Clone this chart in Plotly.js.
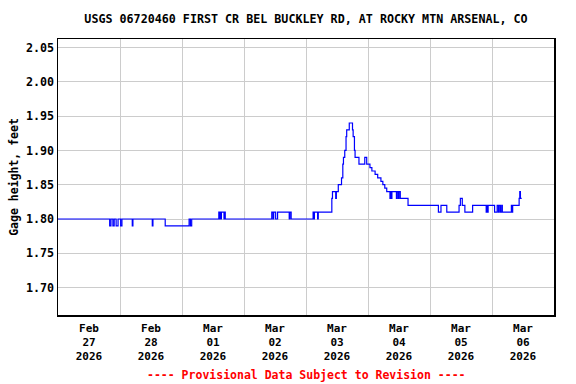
<!DOCTYPE html>
<html>
<head>
<meta charset="utf-8">
<script src="https://cdn.plot.ly/plotly-3.0.1.min.js"></script>
<style>html,body{margin:0;padding:0;background:#fff;}#chart{width:576px;height:384px;}</style>
</head>
<body>
<div id="chart"></div>
<script>
const chartTitle = "USGS 06720460 FIRST CR BEL BUCKLEY RD, AT ROCKY MTN ARSENAL, CO";
const yAxisLabel = "Gage height, feet";
const footnote = "---- Provisional Data Subject to Revision ----";

const times = [
"2026-02-27 00:00","2026-02-27 20:00","2026-02-27 20:30","2026-02-27 21:15","2026-02-27 21:45",
"2026-02-27 22:30","2026-02-27 23:15","2026-02-28 00:15","2026-02-28 00:45","2026-02-28 04:45",
"2026-02-28 05:00","2026-02-28 12:30","2026-02-28 12:45","2026-02-28 17:30","2026-03-01 02:45",
"2026-03-01 03:15","2026-03-01 03:45","2026-03-01 14:15","2026-03-01 14:30","2026-03-01 14:45",
"2026-03-01 15:00","2026-03-01 15:15","2026-03-01 16:15","2026-03-01 16:30","2026-03-01 16:45",
"2026-03-02 10:45","2026-03-02 11:15","2026-03-02 11:30","2026-03-02 12:15","2026-03-02 13:00",
"2026-03-02 17:30","2026-03-02 17:45","2026-03-02 18:15","2026-03-03 02:45","2026-03-03 03:00",
"2026-03-03 03:15","2026-03-03 04:30","2026-03-03 04:45","2026-03-03 10:00","2026-03-03 10:15",
"2026-03-03 11:30","2026-03-03 11:45","2026-03-03 12:30","2026-03-03 13:45","2026-03-03 14:15",
"2026-03-03 14:30","2026-03-03 15:00","2026-03-03 15:30","2026-03-03 15:45","2026-03-03 16:45",
"2026-03-03 18:00","2026-03-03 18:15","2026-03-03 18:45","2026-03-03 19:00","2026-03-03 20:30",
"2026-03-03 22:45","2026-03-03 23:30","2026-03-04 00:45","2026-03-04 01:30","2026-03-04 02:45",
"2026-03-04 03:45","2026-03-04 05:00","2026-03-04 05:45","2026-03-04 06:30","2026-03-04 07:15",
"2026-03-04 08:30","2026-03-04 08:45","2026-03-04 09:00","2026-03-04 09:15","2026-03-04 11:00",
"2026-03-04 11:15","2026-03-04 11:45","2026-03-04 12:00","2026-03-04 12:30","2026-03-04 15:30",
"2026-03-05 03:15","2026-03-05 04:15","2026-03-05 06:30","2026-03-05 11:15","2026-03-05 11:45",
"2026-03-05 12:30","2026-03-05 13:30","2026-03-05 16:30","2026-03-05 21:45","2026-03-05 22:00",
"2026-03-05 22:15","2026-03-05 22:30","2026-03-06 01:00","2026-03-06 02:00","2026-03-06 02:30",
"2026-03-06 02:45","2026-03-06 03:15","2026-03-06 03:45","2026-03-06 04:00","2026-03-06 07:30",
"2026-03-06 07:45","2026-03-06 08:00","2026-03-06 10:30","2026-03-06 10:45","2026-03-06 11:00",
"2026-03-06 11:30"
];
const gageHeight = [
1.80,1.79,1.80,1.79,1.80,
1.79,1.80,1.79,1.80,1.79,
1.80,1.79,1.80,1.79,1.80,
1.79,1.80,1.81,1.80,1.81,
1.80,1.81,1.80,1.81,1.80,
1.81,1.80,1.81,1.80,1.81,
1.80,1.81,1.80,1.81,1.80,
1.81,1.80,1.81,1.83,1.84,
1.83,1.84,1.85,1.86,1.88,
1.89,1.90,1.92,1.93,1.94,
1.93,1.92,1.90,1.89,1.88,
1.89,1.88,1.875,1.87,1.865,
1.86,1.855,1.85,1.845,1.84,
1.83,1.84,1.83,1.84,1.83,
1.84,1.83,1.84,1.83,1.82,
1.81,1.82,1.81,1.82,1.83,
1.82,1.81,1.82,1.81,1.82,
1.81,1.82,1.81,1.82,1.81,
1.82,1.81,1.82,1.81,1.82,
1.81,1.82,1.83,1.84,1.83,
1.83
];
const xRange = ["2026-02-27 00:00","2026-03-07 00:00"];
const yRange = [1.66, 2.0625];
const yTicks = [1.70,1.75,1.80,1.85,1.90,1.95,2.00,2.05];

const mono = "DejaVu Sans Mono, monospace";

Plotly.newPlot("chart", [{
  x: times, y: gageHeight, type: "scatter", mode: "lines",
  line: {color: "#0000ff", width: 1.2, shape: "hv"},
  hoverinfo: "skip"
}], {
  width: 576, height: 384,
  margin: {l: 58, r: 22, t: 39, b: 69},
  paper_bgcolor: "#fff", plot_bgcolor: "#fff",
  showlegend: false,
  title: {text: "<b>" + chartTitle + "</b>", font: {family: mono, size: 11.7, color: "#000"},
          xref: "paper", x: 0.5, xanchor: "center", yref: "container", y: 1 - 19/384, yanchor: "middle"},
  xaxis: {
    type: "date", range: xRange, dtick: 86400000, tick0: "2026-02-27",
    ticklabelmode: "period", tickformat: "<b>%b</b><br><b>%d</b><br><b>%Y</b>",
    ticks: "", ticklabelstandoff: 2, showgrid: true, gridcolor: "#cccccc", gridwidth: 1,
    showline: true, linecolor: "#000", linewidth: 1.5, mirror: true,
    tickfont: {family: mono, size: 11, color: "#000"}, zeroline: false
  },
  yaxis: {
    range: yRange, tickvals: yTicks, ticktext: yTicks.map(v => "<b>" + v.toFixed(2) + "</b>"),
    ticks: "", showgrid: true, gridcolor: "#cccccc", gridwidth: 1,
    showline: true, linecolor: "#000", linewidth: 1.5, mirror: true,
    tickfont: {family: mono, size: 11.7, color: "#000"}, zeroline: false,
    title: {text: "<b>" + yAxisLabel + "</b>", font: {family: mono, size: 11.5, color: "#000"}, standoff: 5}
  },
  annotations: [{
    text: "<b>" + footnote + "</b>", xref: "paper", yref: "paper", x: 0.5, y: -60/276.5,
    xanchor: "center", yanchor: "middle", showarrow: false,
    font: {family: mono, size: 11.5, color: "#ff0000"}
  }]
}, {staticPlot: true, displayModeBar: false});
</script>
</body>
</html>
